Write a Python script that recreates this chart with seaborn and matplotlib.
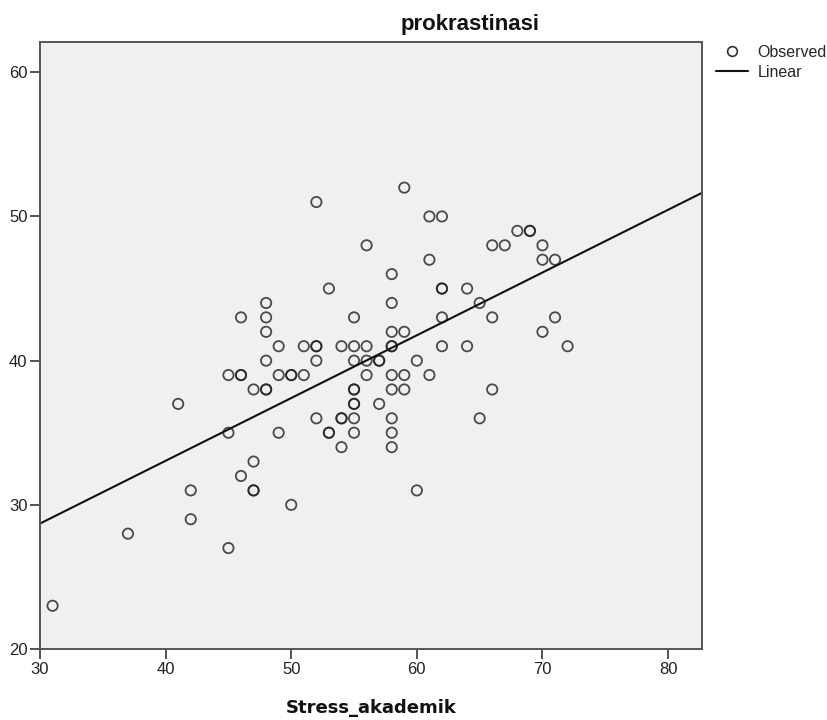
import numpy as np
import pandas as pd
import matplotlib
matplotlib.use("Agg")
import matplotlib.pyplot as plt
from matplotlib.lines import Line2D
import seaborn as sns

# Stress_akademik (x) vs prokrastinasi (y)
stress = [31, 37, 41, 42, 42, 45, 45, 45, 46, 46, 46, 46,
          47, 47, 47, 47, 48, 48, 48, 48, 48, 48, 49, 49, 49,
          50, 50, 50, 51, 51, 52, 52, 52, 52, 52, 53, 53, 53,
          54, 54, 54, 54, 55, 55, 55, 55, 55, 55, 55, 55, 55,
          56, 56, 56, 56, 57, 57, 57,
          58, 58, 58, 58, 58, 58, 58, 58, 58, 58,
          59, 59, 59, 59, 60, 60, 61, 61, 61,
          62, 62, 62, 62, 62, 64, 64, 65, 65, 66, 66, 66,
          67, 68, 69, 69, 70, 70, 70, 71, 71, 72]
prokras = [23, 28, 37, 31, 29, 39, 35, 27, 43, 39, 39, 32,
           38, 33, 31, 31, 44, 43, 42, 40, 38, 38, 41, 39, 35,
           39, 39, 30, 41, 39, 51, 41, 41, 40, 36, 45, 35, 35,
           41, 36, 36, 34, 43, 41, 40, 38, 38, 37, 37, 36, 35,
           48, 41, 40, 39, 40, 40, 37,
           46, 44, 42, 41, 41, 39, 38, 36, 35, 34,
           52, 42, 39, 38, 40, 31, 50, 47, 39,
           50, 45, 45, 43, 41, 45, 41, 44, 36, 48, 43, 38,
           48, 49, 49, 49, 48, 47, 42, 47, 43, 41]

df = pd.DataFrame({"Stress_akademik": stress, "prokrastinasi": prokras})

sns.set_theme(style="ticks")
plt.rcParams["font.family"] = ["Liberation Sans", "DejaVu Sans"]

fig = plt.figure(figsize=(8.27, 7.2), dpi=100)
ax = fig.add_axes([40/827, 71/720, 662/827, 607/720])
ax.set_facecolor("#f0f0f0")
ax.set_xlim(30, 82.7)
ax.set_ylim(20, 62.1)

sns.regplot(data=df, x="Stress_akademik", y="prokrastinasi", ax=ax,
            ci=None, truncate=False,
            scatter_kws=dict(facecolors="none", edgecolors="#202020",
                             s=55, linewidths=1.3, alpha=0.8),
            line_kws=dict(color="#111111", lw=1.5))

ax.set_xlim(30, 82.7)
ax.set_ylim(20, 62.1)
ax.set_xticks([30, 40, 50, 60, 70, 80])
ax.set_yticks([20, 30, 40, 50, 60])
ax.tick_params(length=7, width=1.3, color="#444444", pad=2,
               labelsize=12, labelcolor="#222222")
for sp in ax.spines.values():
    sp.set_visible(True)
    sp.set_color("#555555")
    sp.set_linewidth(1.4)

ax.set_xlabel("Stress_akademik", family="DejaVu Sans", fontweight="bold",
              fontsize=13, labelpad=16, color="#111111")
ax.set_ylabel("")

fig.text(470/827, 1 - 30/720, "prokrastinasi", ha="center", va="baseline",
         fontweight="bold", fontsize=16, color="#111111")

handles = [Line2D([], [], marker="o", ls="none", mfc="none", mec="#303030",
                  ms=7, mew=1.2),
           Line2D([], [], color="#111111", lw=1.5)]
fig.legend(handles, ["Observed", "Linear"], loc="upper left",
           bbox_to_anchor=(716/827, 1 - 45/720), frameon=False,
           fontsize=11.5, handlelength=2.0, handletextpad=0.6,
           labelspacing=0.3, borderpad=0, borderaxespad=0)

fig.savefig("out.png", dpi=100)
